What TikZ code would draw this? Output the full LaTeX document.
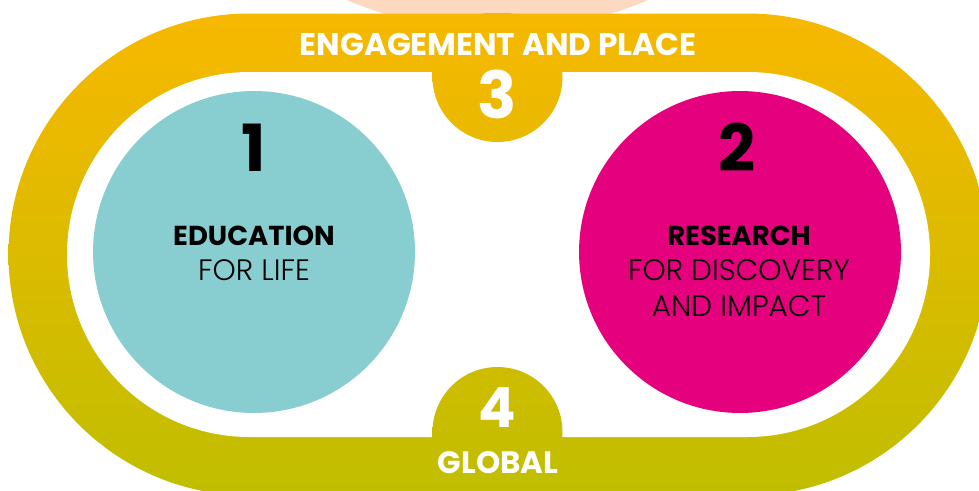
\documentclass[tikz,border=0pt]{standalone}
\usepackage{fontspec}
\setmainfont{Poppins}
\IfFontExistsTF{Poppins Light}{\newfontfamily\thinfont{Poppins Light}}{\newfontfamily\thinfont{Poppins}}
\IfFontExistsTF{Poppins Black}{\newfontfamily\heavyfont{Poppins Black}}{\newfontfamily\heavyfont{Poppins}}

\begin{document}
\begin{tikzpicture}[x=0.02cm,y=0.02cm,
    every node/.style={inner sep=0pt},
    tabtext/.style={text=white,font=\bfseries\fontsize{#1}{20}\selectfont},
    tabnum/.style={text=white,font=\bfseries\fontsize{#1}{40}\selectfont},
    bignum/.style={text=black,font=\heavyfont\bfseries\fontsize{37}{40}\selectfont},
    headtxt/.style={font=\bfseries\fontsize{15.6}{20}\selectfont},
    subtxt/.style={font=\thinfont\fontsize{16.8}{20.1}\selectfont,align=center}]
        \definecolor{ringtop}{HTML}{F7B800}
        \definecolor{ringbot}{HTML}{C0BE00}
        \definecolor{educ}{HTML}{88CDD0}
        \definecolor{resc}{HTML}{E5007D}
        \definecolor{peach}{HTML}{FCD9C0}

        \useasboundingbox (0,0) rectangle (979,-490);
        \clip (0,0) rectangle (979,-490);

        % peach disc peeking out above the ring
        \fill[peach] (497.5,356.5) circle (387);

        % the ring, one gradient from top to bottom
        \begin{scope}
          \clip (249.5,-13.5) -- (747.5,-13.5) arc (90:-90:241) -- (249.5,-495.5) arc (270:90:241) -- cycle;
          \shade[top color=ringtop,bottom color=ringbot] (0,-13.5) rectangle (990,-495.5);
        \end{scope}
        \fill[white] (249.5,-72) -- (747.5,-72) arc (90:-90:182.5) -- (249.5,-437) arc (270:90:182.5) -- cycle;
        \begin{scope}
          \clip (497.5,-77) circle (65) (497.5,-432) circle (65);
          \shade[top color=ringtop,bottom color=ringbot] (0,-13.5) rectangle (990,-495.5);
        \end{scope}

        \node[circle,fill=educ,minimum size=6.44cm] (edu) at (254,-252) {};
        \node[circle,fill=resc,minimum size=6.44cm] (res) at (740,-252) {};

        \node[bignum,anchor=base] (one) at (254,-171) {1};
        \node[headtxt,anchor=base] (eduhead) at (254,-245) {EDUCATION};
        \node[subtxt,anchor=base] (edusub) at (254,-280) {FOR LIFE};

        \node[bignum,anchor=base] (two) at (737,-171) {2};
        \node[headtxt,anchor=base] (reshead) at (739,-245) {RESEARCH};
        \node[subtxt,anchor=base] (ressub) at (739,-316) {FOR DISCOVERY\\AND IMPACT};

        \node[tabtext=17.8,anchor=base] (engage) at (498,-55) {ENGAGEMENT AND PLACE};
        \node[tabnum=37,anchor=base] (three) at (497.5,-118) {3};
        \node[tabnum=31.5,anchor=base] (four) at (497.5,-427) {4};
        \node[tabtext=17.6,anchor=base] (global) at (498,-473) {GLOBAL};
\end{tikzpicture}
\end{document}
